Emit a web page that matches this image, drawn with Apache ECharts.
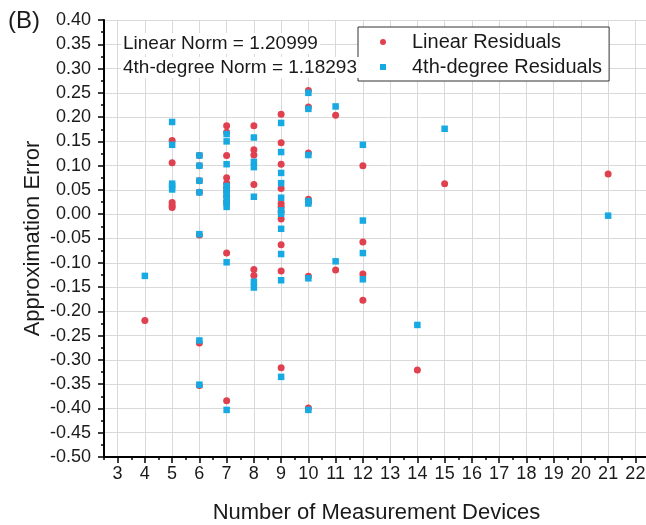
<!DOCTYPE html>
<html>
<head>
<meta charset="utf-8">
<script src="https://cdn.jsdelivr.net/npm/echarts@6.0.0/dist/echarts.min.js"></script>
<style>
  html, body { margin: 0; padding: 0; background: #fff; }
  #main { width: 646px; height: 525px; }
</style>
</head>
<body>
<div id="main"></div>
<script>
// residuals, one entry per point
const linearX = [4,
  5, 5, 5, 5, 5,
  6, 6, 6, 6, 6, 6, 6,
  7, 7, 7, 7, 7, 7, 7, 7, 7, 7, 7,
  8, 8, 8, 8, 8, 8,
  9, 9, 9, 9, 9, 9, 9, 9, 9, 9, 9,
  10, 10, 10, 10, 10, 10, 10,
  11, 11,
  12, 12, 12, 12,
  14, 15, 21]
const linearY = [-0.219,
  0.152, 0.106, 0.024, 0.018, 0.014,
  0.121, 0.100, 0.069, 0.045, -0.043, -0.265, -0.353,
  0.182, 0.169, 0.121, 0.075, 0.064, 0.055, 0.047, 0.037, 0.025, -0.080, -0.384,
  0.182, 0.133, 0.122, 0.061, -0.114, -0.126,
  0.206, 0.147, 0.103, 0.053, 0.022, 0.015, 0.005, -0.010, -0.063, -0.117, -0.316,
  0.255, 0.221, 0.126, 0.031, 0.024, -0.128, -0.399,
  0.204, -0.115,
  0.100, -0.057, -0.123, -0.177,
  -0.321, 0.063, 0.083]

const quarticX = [4,
  5, 5, 5, 5, 5,
  6, 6, 6, 6, 6, 6, 6,
  7, 7, 7, 7, 7, 7, 7, 7, 7, 7, 7,
  8, 8, 8, 8, 8, 8,
  9, 9, 9, 9, 9, 9, 9, 9, 9, 9, 9,
  10, 10, 10, 10, 10, 10, 10,
  11, 11,
  12, 12, 12, 12,
  14, 15, 21]
const quarticY = [-0.127,
  0.190, 0.143, 0.063, 0.058, 0.051,
  0.121, 0.100, 0.069, 0.045, -0.041, -0.260, -0.351,
  0.165, 0.150, 0.103, 0.058, 0.049, 0.041, 0.032, 0.023, 0.015, -0.099, -0.403,
  0.158, 0.108, 0.097, 0.036, -0.139, -0.151,
  0.188, 0.128, 0.085, 0.064, 0.034, 0.008, 0.001, -0.030, -0.082, -0.136, -0.335,
  0.250, 0.217, 0.122, 0.027, 0.022, -0.132, -0.403,
  0.222, -0.097,
  0.143, -0.013, -0.080, -0.134,
  -0.228, 0.176, -0.003]

const xTicks = [3, 4, 5, 6, 7, 8, 9, 10, 11, 12, 13, 14, 15, 16, 17, 18, 19, 20, 21, 22]
const normTexts = ['Linear Norm = 1.20999', '4th-degree Norm = 1.18293']

const font = 'Liberation Sans, Arial, sans-serif'
const ink = '#1a1a1a'
const gridColor = '#d9d9d9'

var myChart = echarts.init(document.getElementById('main'))

let option = {
  animation: false,
  textStyle: { fontFamily: font, color: ink },
  grid: { left: 104, top: 20, right: -3, bottom: 68, outerBoundsMode: 'none' },
  graphic: [
    { type: 'text', left: 8, top: 9, style: { text: '(B)', fontSize: 24, fontFamily: font, fill: ink } },
    {
      type: 'text', left: 121, top: 33, z: 10,
      style: { text: normTexts[0], fontSize: 19, fontFamily: font, fill: ink, backgroundColor: '#fff', padding: [1, 2] }
    },
    {
      type: 'text', left: 121, top: 57, z: 10,
      style: { text: normTexts[1], fontSize: 19, fontFamily: font, fill: ink, backgroundColor: '#fff', padding: [1, 2] }
    }
  ],
  legend: {
    orient: 'vertical',
    left: 358,
    top: 27,
    backgroundColor: '#fff',
    borderColor: '#333',
    borderWidth: 1,
    padding: [5, 7, 4, 22],
    itemGap: 5,
    itemWidth: 6,
    itemHeight: 6,
    textStyle: { fontSize: 20, color: ink, fontFamily: font, padding: [0, 0, 0, 21] },
    data: [
      { name: 'Linear Residuals', icon: 'circle' },
      { name: '4th-degree Residuals', icon: 'rect' }
    ]
  },
  xAxis: [
    {
      type: 'value',
      min: 2.5,
      max: 22.5,
      interval: 0.5,
      name: 'Number of Measurement Devices',
      nameLocation: 'middle',
      nameGap: 45,
      nameTextStyle: { fontSize: 22, color: ink, fontFamily: font },
      axisLine: { onZero: false, lineStyle: { color: '#000', width: 2 } },
      axisTick: { length: 3, lineStyle: { color: '#000', width: 1.5 } },
      axisLabel: { customValues: xTicks, fontSize: 18, color: ink, margin: 8 },
      // only integer positions get a grid line
      splitLine: { show: true, lineStyle: { color: ['rgba(0,0,0,0)', gridColor], width: 1 } }
    },
    {
      type: 'value',
      min: 2.5,
      max: 22.5,
      position: 'bottom',
      axisLine: { show: false, onZero: false },
      axisTick: { show: true, customValues: xTicks, length: 6, lineStyle: { color: '#000', width: 1.5 } },
      axisLabel: { show: false },
      splitLine: { show: false }
    }
  ],
  yAxis: {
    type: 'value',
    min: -0.5,
    max: 0.4,
    interval: 0.05,
    name: 'Approximation Error',
    nameLocation: 'middle',
    nameGap: 60,
    nameMoveOverlap: false,
    nameTextStyle: { fontSize: 22, color: ink, fontFamily: font },
    axisLine: { show: true, onZero: false, lineStyle: { color: '#000', width: 2 } },
    axisTick: { show: true, length: 6, lineStyle: { color: '#000', width: 1.5 } },
    minorTick: { show: true, splitNumber: 2, length: 3, lineStyle: { color: '#000', width: 1.5 } },
    axisLabel: {
      fontSize: 18,
      color: ink,
      margin: 13,
      formatter: v => (Math.abs(v) < 1e-9 ? 0 : v).toFixed(2)
    },
    splitLine: { show: true, lineStyle: { color: gridColor, width: 1 } }
  },
  series: [
    {
      name: 'Linear Residuals',
      type: 'scatter',
      symbol: 'circle',
      symbolSize: 7,
      itemStyle: { color: '#e0414f', opacity: 1 },
      data: linearX.map((x, i) => [x, linearY[i]])
    },
    {
      name: '4th-degree Residuals',
      type: 'scatter',
      symbol: 'rect',
      symbolSize: 6.5,
      itemStyle: { color: '#17a9e1', opacity: 1 },
      data: quarticX.map((x, i) => [x, quarticY[i]])
    }
  ]
}

myChart.setOption(option)
</script>
</body>
</html>
